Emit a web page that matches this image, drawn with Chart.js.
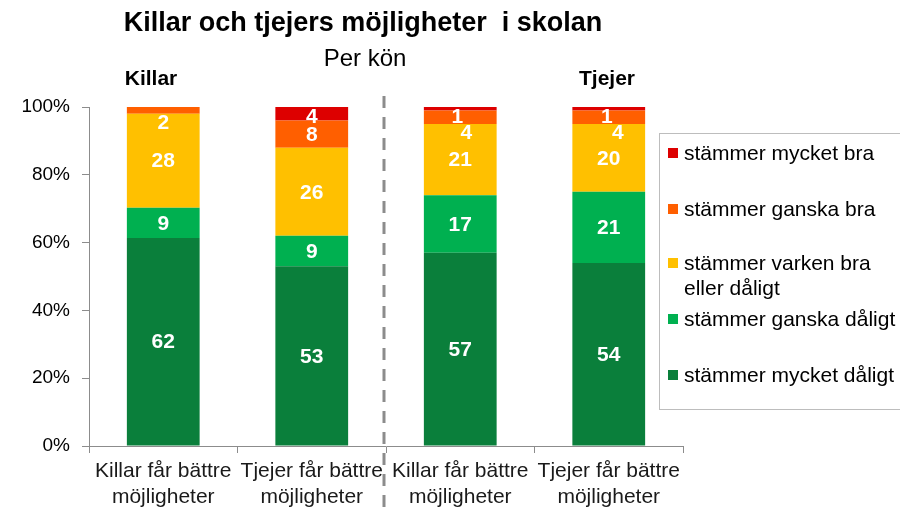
<!DOCTYPE html>
<html>
<head>
<meta charset="utf-8">
<script src="https://cdn.jsdelivr.net/npm/chart.js@4/dist/chart.umd.min.js"></script>
<style>
  html, body { margin: 0; padding: 0; background: #fff; }
  #wrap { position: relative; width: 900px; height: 507px; overflow: hidden; font-family: "Liberation Sans", Arial, sans-serif; }
  canvas { position: absolute; left: 0; top: 0; }
  .t { position: absolute; white-space: nowrap; color: #000; }
  #title { left: 363px; top: 7px; transform: translateX(-50%); font-weight: bold; font-size: 27px; }
  #sub { left: 365px; top: 44px; transform: translateX(-50%); font-size: 24px; }
  .grp { top: 66px; transform: translateX(-50%); font-weight: bold; font-size: 21px; }
  #legend { position: absolute; left: 659px; top: 133px; width: 260px; height: 277px; border: 1px solid #bdbdbd; box-sizing: border-box; }
  .li { position: absolute; left: 0; font-size: 21px; line-height: 25px; color: #000; white-space: nowrap; }
  .sw { position: absolute; left: 8px; top: 8px; width: 10px; height: 10px; }
  .lt { position: absolute; left: 24px; top: 0; }
</style>
</head>
<body>
<div id="wrap">
  <canvas id="c" width="900" height="507"></canvas>
  <div class="t" id="title">Killar och tjejers möjligheter&nbsp; i skolan</div>
  <div class="t" id="sub">Per kön</div>
  <div class="t grp" id="g1" style="left:151px">Killar</div>
  <div class="t grp" id="g2" style="left:607px">Tjejer</div>
  <div id="legend"></div>
</div>
<script>
// ---- data ----
const categories = [
  ["Killar får bättre", "möjligheter"],
  ["Tjejer får bättre", "möjligheter"],
  ["Killar får bättre", "möjligheter"],
  ["Tjejer får bättre", "möjligheter"]
];
const groups = ["Killar", "Tjejer"];
const seriesNames = [
  "stämmer mycket dåligt",
  "stämmer ganska dåligt",
  "stämmer varken bra eller dåligt",
  "stämmer ganska bra",
  "stämmer mycket bra"
];
const mycketDaligt = [62, 53, 57, 54];
const ganskaDaligt = [9, 9, 17, 21];
const varken       = [28, 26, 21, 20];
const ganskaBra    = [2, 8, 4, 4];
const mycketBra    = [0, 4, 1, 1];
const yTicks = [0, 20, 40, 60, 80, 100];

// ---- style ----
const colors = ["#0A7F3B", "#00B050", "#FFC000", "#FF5F00", "#DD0000"];
const legendLines = [
  ["stämmer mycket dåligt"],
  ["stämmer ganska dåligt"],
  ["stämmer varken bra", "eller dåligt"],
  ["stämmer ganska bra"],
  ["stämmer mycket bra"]
];
// label nudges [dx, dy] per series per bar (pixels), for small segments
const labelShift = [
  [[0,0],[0,0],[0,0],[0,0]],
  [[0,0],[0,0],[0,0],[0,0]],
  [[0,0],[0,0],[0,0],[0,0]],
  [[0,12],[0,0],[6,15],[9,15]],
  [[0,0],[0,2],[-3,8],[-2,8]]
];

const raw = [mycketDaligt, ganskaDaligt, varken, ganskaBra, mycketBra];
const totals = categories.map((_, i) => raw.reduce((s, a) => s + a[i], 0));

const datasets = raw.map((arr, k) => ({
  label: seriesNames[k],
  data: arr.map((v, i) => v / totals[i] * 100),
  rawValues: arr,
  backgroundColor: colors[k],
  borderWidth: 0,
  barPercentage: 0.49,
  categoryPercentage: 1.0
}));

// legend (top to bottom: reverse stacking)
const legendTops = [6, 62, 116, 172, 228];
const lg = document.getElementById('legend');
for (let n = 0; n < 5; n++) {
  const k = 4 - n;
  const d = document.createElement('div');
  d.className = 'li';
  d.style.top = legendTops[n] + 'px';
  d.innerHTML = '<span class="sw" style="background:' + colors[k] + '"></span><span class="lt">' +
    legendLines[k].join('<br>') + '</span>';
  lg.appendChild(d);
}

const labelsPlugin = {
  id: 'vals',
  afterDatasetsDraw(chart) {
    const ctx = chart.ctx;
    ctx.save();
    ctx.fillStyle = '#fff';
    ctx.font = 'bold 21px "Liberation Sans", Arial, sans-serif';
    ctx.textAlign = 'center';
    ctx.textBaseline = 'middle';
    chart.data.datasets.forEach((ds, k) => {
      const meta = chart.getDatasetMeta(k);
      meta.data.forEach((el, i) => {
        const v = ds.rawValues[i];
        if (!v) return;
        const sh = labelShift[k][i];
        ctx.fillText(String(v), el.x + sh[0], (el.y + el.base) / 2 + sh[1] + 1);
      });
    });
    ctx.restore();
  }
};

const dividerPlugin = {
  id: 'divider',
  afterDraw(chart) {
    const xs = chart.scales.x;
    const x = (xs.getPixelForValue(1) + xs.getPixelForValue(2)) / 2 - 2;
    const ctx = chart.ctx;
    ctx.save();
    ctx.strokeStyle = '#8c8c8c';
    ctx.lineWidth = 3;
    ctx.setLineDash([12, 9]);
    ctx.beginPath();
    ctx.moveTo(x, 96);
    ctx.lineTo(x, 507);
    ctx.stroke();
    ctx.restore();
  }
};

new Chart(document.getElementById('c'), {
  type: 'bar',
  data: { labels: categories, datasets },
  options: {
    responsive: false,
    animation: false,
    layout: { padding: { top: 107, right: 217, bottom: 0, left: 0 } },
    plugins: { legend: { display: false }, tooltip: { enabled: false }, title: { display: false } },
    scales: {
      x: {
        stacked: true,
        grid: { offset: true, drawOnChartArea: false, drawTicks: true, tickLength: 7, color: '#8c8c8c', lineWidth: 1 },
        border: { color: '#8c8c8c', width: 1 },
        ticks: { color: '#1a1a1a', font: { family: '"Liberation Sans", Arial, sans-serif', size: 21, lineHeight: 1.25 }, padding: 5, maxRotation: 0, autoSkip: false },
        afterFit(s) { s.height = 61; }
      },
      y: {
        stacked: true,
        min: 0, max: 100,
        afterBuildTicks(s) { s.ticks = yTicks.map(v => ({ value: v })); },
        grid: { drawOnChartArea: false, drawTicks: true, tickLength: 7, color: '#8c8c8c' },
        border: { color: '#8c8c8c', width: 1 },
        ticks: { color: '#000', font: { family: '"Liberation Sans", Arial, sans-serif', size: 19 }, padding: 12, callback: v => v + '%' },
        afterFit(s) { s.width = 89; }
      }
    }
  },
  plugins: [labelsPlugin, dividerPlugin]
});
</script>
</body>
</html>
